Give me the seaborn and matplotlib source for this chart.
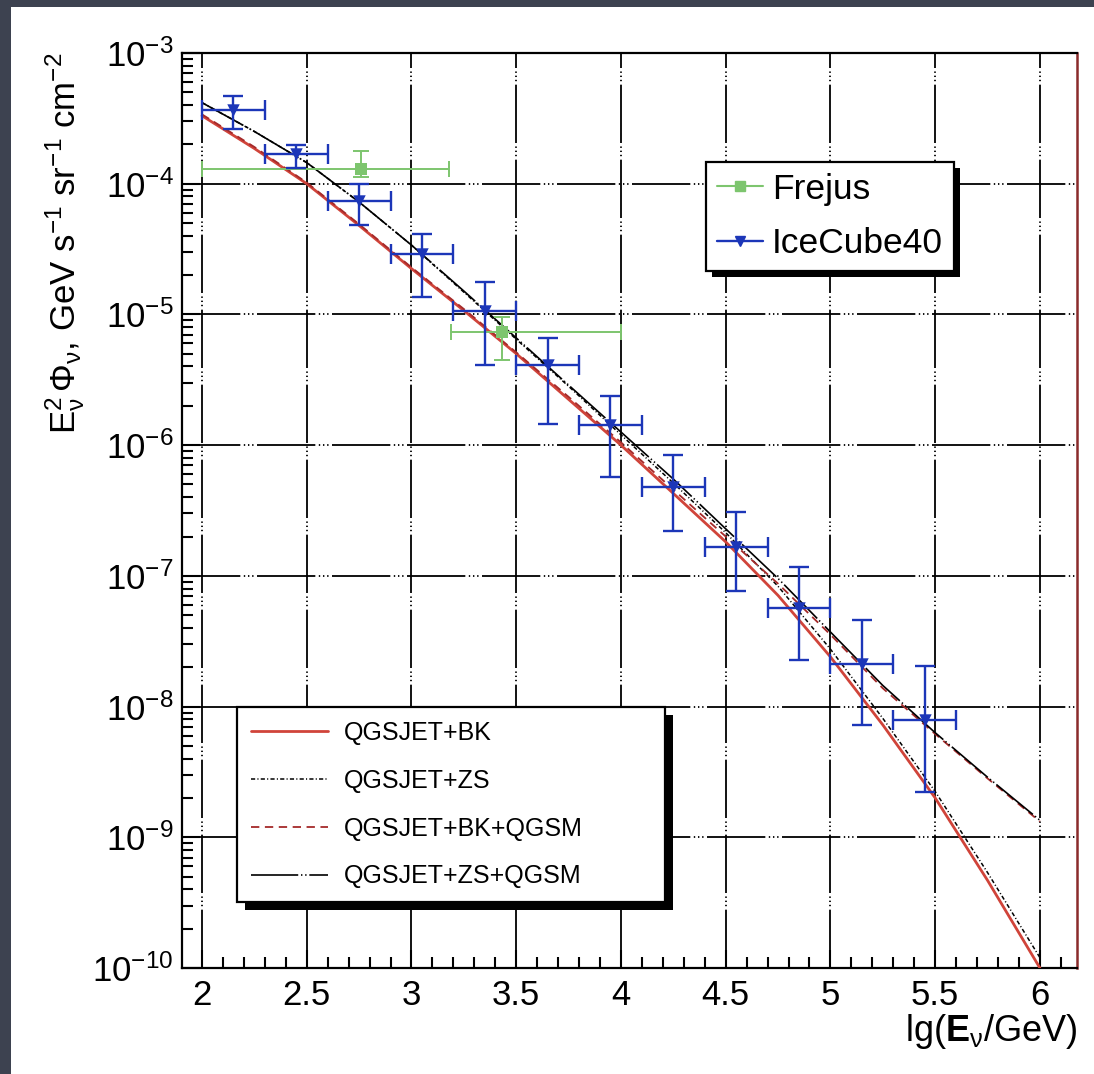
import matplotlib
matplotlib.use("Agg")
import matplotlib.pyplot as plt
import seaborn as sns
from matplotlib.lines import Line2D
from matplotlib.patches import Rectangle
from matplotlib.ticker import (MultipleLocator, FixedLocator, FuncFormatter,
                               NullFormatter, LogFormatterSciNotation)

# ---- model predictions: E^2 Phi vs lg(E/GeV) ----
lg_e_model = [2.0, 2.25, 2.5, 2.75, 3.0, 3.25, 3.5, 3.75, 4.0, 4.25,
              4.5, 4.75, 5.0, 5.25, 5.5, 5.75, 6.0]
flux_qgsjet_bk = [3.31e-4, 1.86e-4, 1.00e-4, 4.79e-5, 2.24e-5, 1.07e-5, 5.01e-6,
                  2.24e-6, 1.00e-6, 4.27e-7, 1.82e-7, 7.08e-8, 2.40e-8, 7.24e-9,
                  2.00e-9, 4.68e-10, 1.00e-10]
flux_qgsjet_zs = [4.17e-4, 2.51e-4, 1.45e-4, 7.24e-5, 3.39e-5, 1.48e-5, 6.46e-6,
                  2.82e-6, 1.20e-6, 5.13e-7, 2.14e-7, 8.32e-8, 2.75e-8, 8.13e-9,
                  2.24e-9, 5.37e-10, 1.20e-10]
flux_qgsjet_bk_qgsm = [3.39e-4, 1.91e-4, 1.02e-4, 4.90e-5, 2.29e-5, 1.10e-5, 5.13e-6,
                       2.34e-6, 1.05e-6, 4.57e-7, 2.00e-7, 8.71e-8, 3.55e-8, 1.38e-8,
                       6.17e-9, 2.82e-9, 1.32e-9]
flux_qgsjet_zs_qgsm = [4.17e-4, 2.51e-4, 1.45e-4, 7.24e-5, 3.39e-5, 1.51e-5, 6.61e-6,
                       2.88e-6, 1.26e-6, 5.50e-7, 2.29e-7, 9.55e-8, 3.72e-8, 1.45e-8,
                       6.31e-9, 2.88e-9, 1.35e-9]
model_labels = ["QGSJET+BK", "QGSJET+ZS", "QGSJET+BK+QGSM", "QGSJET+ZS+QGSM"]

# ---- IceCube40 unfolded spectrum ----
lg_e_icecube = [2.15, 2.45, 2.75, 3.05, 3.35, 3.65, 3.95, 4.25, 4.55, 4.85, 5.15, 5.45]
lg_e_icecube_halfbin = [0.15] * 12
flux_icecube = [3.65e-4, 1.68e-4, 7.4e-5, 2.9e-5, 1.07e-5, 4.1e-6, 1.42e-6,
                4.8e-7, 1.65e-7, 5.7e-8, 2.1e-8, 7.9e-9]
flux_icecube_hi = [4.68e-4, 1.97e-4, 1.0e-4, 4.1e-5, 1.77e-5, 6.6e-6, 2.36e-6,
                   8.45e-7, 3.1e-7, 1.17e-7, 4.6e-8, 2.05e-8]
flux_icecube_lo = [2.63e-4, 1.32e-4, 4.85e-5, 1.36e-5, 4.1e-6, 1.45e-6, 5.7e-7,
                   2.22e-7, 7.7e-8, 2.26e-8, 7.2e-9, 2.23e-9]

# ---- Frejus ----
lg_e_frejus = [2.76, 3.43]
lg_e_frejus_lo = [2.0, 3.19]
lg_e_frejus_hi = [3.18, 4.0]
flux_frejus = [1.29e-4, 7.4e-6]
flux_frejus_hi = [1.78e-4, 9.5e-6]
flux_frejus_lo = [1.12e-4, 4.5e-6]

# ---- axis ticks ----
x_ticks = [2, 2.5, 3, 3.5, 4, 4.5, 5, 5.5, 6]
y_decades = [1e-10, 1e-9, 1e-8, 1e-7, 1e-6, 1e-5, 1e-4, 1e-3]

# ---- style ----
sns.set_theme(style="white")
plt.rcParams.update({
    "font.family": ["Liberation Sans", "DejaVu Sans"],
    "mathtext.fontset": "custom",
    "mathtext.rm": "Liberation Sans",
    "mathtext.it": "Liberation Sans:italic",
    "mathtext.bf": "Liberation Sans:bold",
    "lines.scale_dashes": False,
    "text.color": "black",
    "axes.labelcolor": "black",
    "xtick.color": "black",
    "ytick.color": "black",
})

W, H = 1094, 1074
fig = plt.figure(figsize=(W / 100, H / 100), dpi=100, facecolor="white")
# slate strips along the left and top edge
fig.patches.append(Rectangle((0, 0), 11 / W, 1, transform=fig.transFigure,
                             facecolor="#3d4250", edgecolor="none", zorder=-1))
fig.patches.append(Rectangle((0, 1 - 7 / H), 1, 7 / H, transform=fig.transFigure,
                             facecolor="#3d4250", edgecolor="none", zorder=-1))

ax = fig.add_axes([182 / W, 1 - 968 / H, 895 / W, 915 / H])
ax.set_facecolor("white")
ax.set_yscale("log")
ax.set_xlim(1.9045, 6.177)
ax.set_ylim(1e-10, 1e-3)

grid_style = (0, (42, 2.5, 1, 2, 1, 2, 1, 2.5))
ax.set_axisbelow(True)
ax.grid(True, which="major", color="black", linewidth=1.3, linestyle=grid_style)
ax.grid(False, which="minor")

red = "#d0443a"
red_dark = "#a52a2a"
blue = "#1c36b8"
green = "#7dc56e"

styles = [
    dict(color=red, linewidth=2.0, linestyle="-"),
    dict(color="black", linewidth=1.1, linestyle=(0, (3, 1.6, 0.8, 1.6))),
    dict(color=red_dark, linewidth=1.3, linestyle=(0, (6, 4))),
    dict(color="black", linewidth=1.2, linestyle=(0, (34, 2, 1, 2, 1, 2))),
]
curves = [flux_qgsjet_bk, flux_qgsjet_zs, flux_qgsjet_bk_qgsm, flux_qgsjet_zs_qgsm]
for flux, st in zip(curves, styles):
    sns.lineplot(x=lg_e_model, y=flux, ax=ax, estimator=None, sort=False,
                 legend=False, zorder=3, **st)

# Frejus points
ax.errorbar(lg_e_frejus, flux_frejus,
            xerr=[[c - lo for c, lo in zip(lg_e_frejus, lg_e_frejus_lo)],
                  [hi - c for c, hi in zip(lg_e_frejus, lg_e_frejus_hi)]],
            yerr=[[c - lo for c, lo in zip(flux_frejus, flux_frejus_lo)],
                  [hi - c for c, hi in zip(flux_frejus, flux_frejus_hi)]],
            fmt="none", ecolor=green, elinewidth=1.4, capsize=6, capthick=1.4, zorder=4)
sns.scatterplot(x=lg_e_frejus, y=flux_frejus, ax=ax, marker="s", s=70,
                color=green, edgecolor=green, linewidth=0, zorder=5, legend=False)

# IceCube40 points
ax.errorbar(lg_e_icecube, flux_icecube, xerr=lg_e_icecube_halfbin,
            yerr=[[c - lo for c, lo in zip(flux_icecube, flux_icecube_lo)],
                  [hi - c for c, hi in zip(flux_icecube, flux_icecube_hi)]],
            fmt="none", ecolor=blue, elinewidth=1.7, capsize=7, capthick=1.7, zorder=6)
sns.scatterplot(x=lg_e_icecube, y=flux_icecube, ax=ax, marker="v", s=80,
                color=blue, edgecolor=blue, linewidth=0, zorder=7, legend=False)

# ---- axes decoration ----
ax.xaxis.set_major_locator(FixedLocator(x_ticks))
ax.xaxis.set_minor_locator(MultipleLocator(0.1))
ax.xaxis.set_major_formatter(FuncFormatter(lambda v, p: f"{v:g}"))
ax.xaxis.set_minor_formatter(NullFormatter())
ax.yaxis.set_major_locator(FixedLocator(y_decades))
ax.yaxis.set_major_formatter(LogFormatterSciNotation())
ax.yaxis.set_minor_locator(FixedLocator([d * m for d in y_decades[:-1] for m in range(2, 10)]))
ax.yaxis.set_minor_formatter(NullFormatter())
ax.tick_params(which="both", direction="in", top=False, right=False,
               left=True, bottom=True, width=1.5, labelsize=25)
ax.tick_params(which="major", length=13)
ax.tick_params(which="minor", length=8)
ax.tick_params(axis="x", which="major", pad=8)
ax.tick_params(axis="y", which="major", pad=6)

for side in ["left", "top", "bottom"]:
    ax.spines[side].set_color("black")
    ax.spines[side].set_linewidth(1.6)
ax.spines["right"].set_color("#8a2b2b")
ax.spines["right"].set_linewidth(1.8)

ax.set_ylabel(r"$\mathrm{E_{\nu}^{2}\,\Phi_{\nu}}$, GeV s$^{-1}$ sr$^{-1}$ cm$^{-2}$",
              loc="top", fontsize=25, labelpad=4)
ax.set_xlabel(r"lg($\mathbf{E}_{\mathrm{\nu}}$/GeV)", loc="right", fontsize=26, labelpad=0)

# ---- legends ----
data_handles = [
    Line2D([], [], color=green, linewidth=1.5, marker="s", markersize=7),
    Line2D([], [], color=blue, linewidth=1.7, marker="v", markersize=7),
]
leg1 = ax.legend(data_handles, ["Frejus", "IceCube40"], loc="upper left",
                 bbox_to_anchor=(0.586, 0.881), borderaxespad=0, fontsize=25.5,
                 frameon=True, fancybox=False, edgecolor="black", framealpha=1,
                 handlelength=1.3, handletextpad=0.25, borderpad=0.3, labelspacing=0.62)
leg1.get_frame().set_linewidth(1.6)
leg1.set_zorder(10)
ax.add_artist(leg1)

model_handles = [Line2D([], [], **st) for st in styles]
leg2 = ax.legend(model_handles, model_labels, loc="lower left",
                 bbox_to_anchor=(0.0615, 0.0721, 0.478, 0.211), mode="expand",
                 borderaxespad=0, fontsize=18, frameon=True, fancybox=False,
                 edgecolor="black", framealpha=1, handlelength=3.1,
                 handletextpad=0.64, borderpad=0.55, labelspacing=0.95)
leg2.get_frame().set_linewidth(1.6)
leg2.set_zorder(10)


def add_shadow(leg, dx, dy):
    fig.canvas.draw()
    bb = leg.get_frame().get_window_extent(fig.canvas.get_renderer())
    inv = ax.transAxes.inverted()
    x0, y0 = inv.transform((bb.x0 + dx, bb.y0 - dy))
    x1, y1 = inv.transform((bb.x1 + dx, bb.y1 - dy))
    ax.add_patch(Rectangle((x0, y0), x1 - x0, y1 - y0, transform=ax.transAxes,
                           facecolor="black", edgecolor="none", zorder=9.5,
                           clip_on=False))


add_shadow(leg1, 6, 6)
add_shadow(leg2, 8, 8)

fig.savefig("out.png", dpi=100, facecolor="white")
